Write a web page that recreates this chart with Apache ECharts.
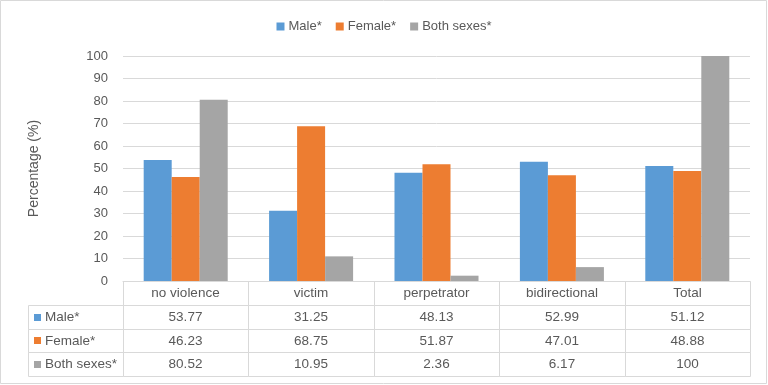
<!DOCTYPE html>
<html><head><meta charset="utf-8">
<script src="https://cdn.jsdelivr.net/npm/echarts@6/dist/echarts.min.js"></script>
<style>html,body{margin:0;padding:0;background:#fff}#c{width:768px;height:385px}</style>
</head><body><div id="c"></div>
<script>
const categories = ['no violence', 'victim', 'perpetrator', 'bidirectional', 'Total'];
const seriesNames = ['Male*', 'Female*', 'Both sexes*'];
const male = [53.77, 31.25, 48.13, 52.99, 51.12];
const female = [46.23, 68.75, 51.87, 47.01, 48.88];
const both = [80.52, 10.95, 2.36, 6.17, 100];
const yTicks = [0, 10, 20, 30, 40, 50, 60, 70, 80, 90, 100];
const colors = ['#5B9BD5', '#ED7D31', '#A5A5A5'];
const FONT = '"Liberation Sans", Arial, sans-serif';
const TXT = '#595959';
const LINE = '#D9D9D9';

const values = [male, female, both];
// table data: [categoryIndex, row, text, colorIndex]
const tableData = [];
categories.forEach((c, i) => tableData.push([i, 0, c, -1]));
values.forEach((arr, s) => arr.forEach((v, i) => tableData.push([i, s + 1, String(v), -1])));
seriesNames.forEach((n, s) => tableData.push([-1, s + 1, n, s]));

const chart = echarts.init(document.getElementById('c'));
chart.setOption({
  animation: false,
  color: colors,
  textStyle: { fontFamily: FONT, color: TXT },
  legend: {
    top: 15, left: 'center', icon: 'rect', itemWidth: 8, itemHeight: 8, itemGap: 14,
    textStyle: { color: TXT, fontSize: 13, fontFamily: FONT, padding: [0, 0, 0, -1] },
    data: seriesNames
  },
  grid: [
    { left: 123, right: 18, top: 56, height: 225 },
    { left: 123, right: 18, top: 281, height: 95 }
  ],
  xAxis: [
    { type: 'category', gridIndex: 0, data: categories,
      axisLine: { lineStyle: { color: LINE } }, axisTick: { show: false }, axisLabel: { show: false } },
    { type: 'category', gridIndex: 1, data: categories, show: false }
  ],
  yAxis: [
    { type: 'value', gridIndex: 0, min: 0, max: 100, interval: 10,
      name: 'Percentage (%)', nameLocation: 'middle', nameGap: 82,
      nameTextStyle: { fontSize: 14, color: TXT, fontFamily: FONT },
      axisLine: { show: false }, axisTick: { show: false },
      axisLabel: { color: TXT, fontSize: 13, margin: 15,
        formatter: v => yTicks.indexOf(v) >= 0 ? String(v) : '' },
      splitLine: { lineStyle: { color: LINE } } },
    { type: 'value', gridIndex: 1, min: 0, max: 4, inverse: true, show: false }
  ],
  series: [
    ...seriesNames.map((n, s) => ({
      name: n, type: 'bar', xAxisIndex: 0, yAxisIndex: 0, data: values[s],
      barGap: '0%', barCategoryGap: '33%'
    })),
    {
      type: 'custom', xAxisIndex: 1, yAxisIndex: 1, clip: false, silent: true,
      data: tableData,
      renderItem: function (params, api) {
        const ci = api.value(0), row = api.value(1);
        const item = tableData[params.dataIndex];
        const bw = api.size([1, 0])[0];
        const top = Math.round(api.coord([0, row])[1]);
        const bot = Math.round(api.coord([0, row + 1])[1]);
        let x0, x1;
        if (ci < 0) {
          x1 = Math.round(api.coord([0, row])[0] - bw / 2);
          x0 = x1 - 95;
        } else {
          x0 = Math.round(api.coord([ci, row])[0] - bw / 2);
          x1 = Math.round(api.coord([ci, row])[0] + bw / 2);
        }
        const children = [{
          type: 'rect',
          shape: { x: x0 + 0.5, y: top + 0.5, width: x1 - x0, height: bot - top },
          style: { fill: 'none', stroke: LINE, lineWidth: 1 }
        }];
        const cy = (top + bot) / 2;
        if (item[3] >= 0) {
          children.push({ type: 'rect', shape: { x: x0 + 6, y: Math.round(cy - 3.5), width: 7, height: 7 },
            style: { fill: colors[item[3]] } });
          children.push({ type: 'text', style: { text: item[2], x: x0 + 17, y: cy + 0.5,
            align: 'left', verticalAlign: 'middle', fill: TXT, fontSize: 13.5, fontFamily: FONT } });
        } else {
          children.push({ type: 'text', style: { text: item[2], x: (x0 + x1) / 2, y: cy + 0.5,
            align: 'center', verticalAlign: 'middle', fill: TXT, fontSize: 13.5, fontFamily: FONT } });
        }
        return { type: 'group', children: children };
      }
    }
  ],
  graphic: [{
    type: 'rect', silent: true,
    shape: { x: 0.5, y: 0.5, width: 766, height: 383 },
    style: { fill: 'none', stroke: LINE, lineWidth: 1 }
  }]
});
</script></body></html>
